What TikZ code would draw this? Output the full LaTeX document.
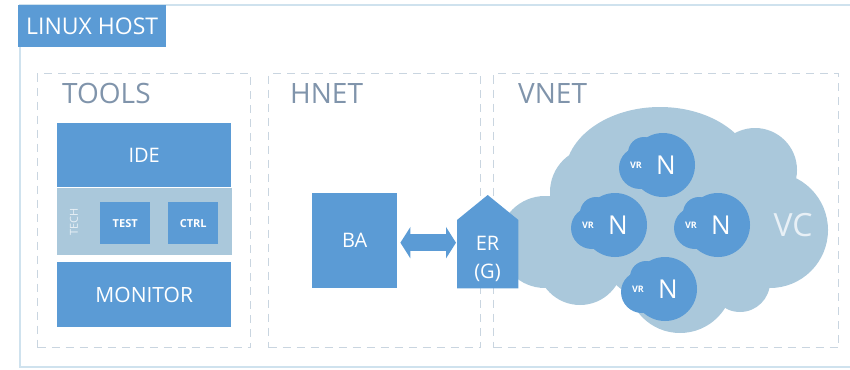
\documentclass[tikz,border=0pt]{standalone}
\usepackage{fontspec}
\setmainfont{Open Sans}
\usetikzlibrary{arrows.meta,calc}
\definecolor{boxblue}{HTML}{5B9BD5}
\definecolor{paleblue}{HTML}{AAC8DB}
\definecolor{dashgray}{HTML}{C9D5E0}
\definecolor{headgray}{HTML}{8094AB}
\definecolor{hostline}{HTML}{CFE2EE}
\definecolor{vctext}{HTML}{E8F0F6}
\newcommand\fsz[1]{\fontsize{#1}{#1}\selectfont}
\begin{document}
\begin{tikzpicture}[x=1pt,y=-1pt,
  blk/.style={fill=boxblue, text=white, inner sep=0, anchor=north west},
  zone/.style={draw=dashgray, dash pattern=on 8pt off 6pt, line width=1pt,
               inner sep=0, anchor=north west},
  heading/.style={text=headgray, anchor=base west, inner sep=0, font=\fsz{28}},
  lbl/.style={text=white, inner sep=0}]
\useasboundingbox (0,0) rectangle (850,369);

% host frame and its tag
\draw[hostline, line width=1.5pt] (20,5) rectangle (856,367);
\node[blk, minimum width=148, minimum height=42, font=\fsz{23}] (host) at (18,5) {LINUX HOST};

% the three zones
\node[zone, minimum width=213, minimum height=274] (tools) at (37,73) {};
\node[zone, minimum width=212, minimum height=274] (hnet) at (268,73) {};
\node[zone, minimum width=345, minimum height=274] (vnet) at (493,73) {};
\node[heading] (toolsT) at (62,103) {TOOLS};
\node[heading] (hnetT) at (290,103) {HNET};
\node[heading] (vnetT) at (518,103) {VNET};

% tools column
\node[blk, minimum width=174, minimum height=64, font=\fsz{20}] (ide) at (57,123) {IDE};
\node[fill=paleblue, inner sep=0, anchor=north west, minimum width=175, minimum height=67] (tech) at (57,188) {};
\node[lbl, rotate=90, text=vctext, font=\fsz{11}] (techT) at (74,222) {TECH};
\node[blk, minimum width=50, minimum height=42, font=\bfseries\fsz{11}] (test) at (100,202) {TEST};
\node[blk, minimum width=50, minimum height=42, font=\bfseries\fsz{11}] (ctrl) at (168,202) {CTRL};
\node[blk, minimum width=174, minimum height=65, font=\fsz{21}] (monitor) at (57,262) {MONITOR};

% virtual cloud
\fill[paleblue]
  (660,175) ellipse[x radius=95, y radius=68]
  (755,170) circle[radius=42]
  (770,230) circle[radius=58]
  (680,280) circle[radius=53]
  (740,282) circle[radius=30]
  (580,262) circle[radius=43]
  (545,242) circle[radius=46]
  (595,192) circle[radius=45]
  (665,232) circle[radius=72];
\node[text=vctext, inner sep=0, font=\fsz{32}] (vc) at (793,225) {VC};

% nodes inside the cloud
\foreach \nm/\cx/\cy in {n1/663/165, n2/615/225, n3/718/225, n4/665/289}{
  \fill[boxblue] (\cx,\cy) circle[radius=32];
  \fill[boxblue] (\cx-23,\cy+3) circle[radius=21];
  \fill[boxblue] (\cx-19,\cy-12) circle[radius=16];
  \node[lbl, font=\fsz{26}] (\nm) at (\cx+3,\cy) {N};
  \node[lbl, font=\bfseries\fsz{9}] (\nm vr) at (\cx-27,\cy) {VR};
}

% host network
\node[blk, minimum width=85, minimum height=95, font=\fsz{20}] (BA) at (312,193) {BA};
\node[inner sep=0, anchor=north west, minimum width=61, minimum height=93] (ER) at (457,195) {};
\fill[boxblue] (ER.south west) -- ($(ER.north west)+(0,25)$) -- (ER.north)
  -- ($(ER.north east)+(0,25)$) -- (ER.south east) -- cycle;
\node[lbl, font=\fsz{20}] (er1) at (487.5,243) {ER};
\node[lbl, font=\fsz{20}] (er2) at (487.5,273) {(G)};

\draw[boxblue, line width=17pt,
  {Triangle[length=10pt,width=31pt]}-{Triangle[length=10pt,width=31pt]},
  shorten <=3pt, shorten >=1pt] ($(BA.east)+(0,2)$) -- ($(BA.east -| ER.west)+(0,2)$);
\end{tikzpicture}
\end{document}
